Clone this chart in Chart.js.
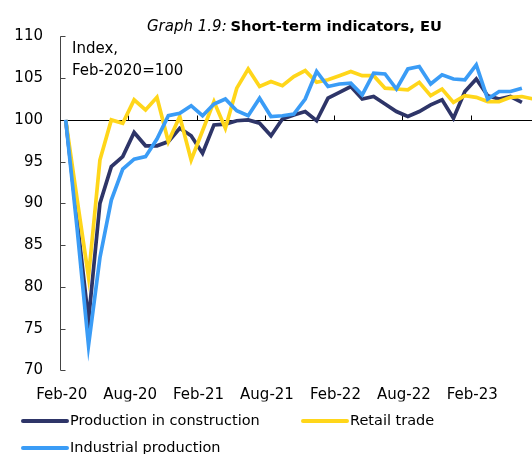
<!DOCTYPE html>
<html>
<head>
<meta charset="utf-8">
<script src="https://cdn.jsdelivr.net/npm/chart.js@4"></script>
<style>
  html, body { margin: 0; padding: 0; overflow: hidden; background: #fff; }
  #wrap { width: 545px; height: 454px; }
</style>
</head>
<body>
<div id="wrap"><canvas id="chart" width="545" height="454"></canvas></div>
<script>
// ---- Data (index, Feb-2020 = 100) ----
const months = [
  'Feb-20','Mar-20','Apr-20','May-20','Jun-20','Jul-20','Aug-20','Sep-20','Oct-20','Nov-20','Dec-20',
  'Jan-21','Feb-21','Mar-21','Apr-21','May-21','Jun-21','Jul-21','Aug-21','Sep-21','Oct-21','Nov-21','Dec-21',
  'Jan-22','Feb-22','Mar-22','Apr-22','May-22','Jun-22','Jul-22','Aug-22','Sep-22','Oct-22','Nov-22','Dec-22',
  'Jan-23','Feb-23','Mar-23','Apr-23','May-23','Jun-23','Jul-23'
];

const construction = [
  100, 88, 76.0, 90.0, 94.4, 95.6, 98.5, 96.9, 96.9, 97.4, 99.0,
  98.1, 96.0, 99.4, 99.5, 99.9, 100.0, 99.6, 98.1, 100.1, 100.6, 101.0, 99.9,
  102.6, 103.3, 104.0, 102.5, 102.8, 101.9, 101.0, 100.4, 101.0, 101.8, 102.4, 100.2,
  103.4, 104.9, 102.9, 102.5, 102.8, 102.1
];

const retail = [
  100, 90.5, 81.2, 95.2, 100.0, 99.6, 102.4, 101.2, 102.7, 97.4, 100.4,
  95.2, 98.7, 102.2, 99.0, 103.8, 106.1, 104.0, 104.6, 104.1, 105.2, 105.9, 104.5,
  104.8, 105.3, 105.8, 105.3, 105.3, 103.8, 103.7, 103.6, 104.5, 102.9, 103.7, 102.1,
  102.9, 102.7, 102.2, 102.2, 102.7, 102.8, 102.5
];

const industry = [
  100, 87, 73.0, 83.5, 90.4, 94.1, 95.3, 95.6, 97.7, 100.5, 100.8,
  101.7, 100.5, 101.9, 102.5, 101.1, 100.5, 102.6, 100.4, 100.5, 100.7, 102.5, 105.8,
  104.0, 104.3, 104.4, 103.0, 105.6, 105.5, 103.7, 106.1, 106.4, 104.3, 105.4, 104.9,
  104.8, 106.6, 102.5, 103.4, 103.4, 103.8
];

const FONT = 'DejaVu Sans';

// ---- Decorations: title, note, axes, legend ----
const decor = {
  id: 'decor',
  beforeDatasetsDraw(chart) {
    const { ctx, chartArea: a, scales: { x, y } } = chart;
    ctx.save();
    // y axis with inward ticks
    ctx.strokeStyle = '#444';
    ctx.lineWidth = 1;
    const lx = Math.round(a.left) + 0.5;
    ctx.beginPath();
    ctx.moveTo(lx, y.getPixelForValue(110));
    ctx.lineTo(lx, y.getPixelForValue(70));
    for (let v = 70; v <= 110; v += 5) {
      const py = Math.round(y.getPixelForValue(v)) + 0.5;
      ctx.moveTo(lx, py);
      ctx.lineTo(lx + 5, py);
    }
    ctx.stroke();
    // x axis drawn at 100, ticks every 6 months between categories
    const y100 = Math.round(y.getPixelForValue(100)) + 0.5;
    ctx.strokeStyle = '#000';
    ctx.beginPath();
    ctx.moveTo(a.left, y100);
    ctx.lineTo(a.right, y100);
    const half = (x.getPixelForValue(1) - x.getPixelForValue(0)) / 2;
    for (let i = 6; i < months.length; i += 6) {
      const px = Math.round(x.getPixelForValue(i) - half) + 0.5;
      ctx.moveTo(px, y100);
      ctx.lineTo(px, y100 - 5);
    }
    ctx.stroke();
    ctx.restore();
  },
  afterDraw(chart) {
    const { ctx } = chart;
    ctx.save();
    ctx.fillStyle = '#000';
    ctx.textBaseline = 'alphabetic';
    // title
    ctx.font = 'italic 15px "' + FONT + '"';
    const t1 = 'Graph 1.9: ';
    ctx.fillText(t1, 147, 31);
    const w1 = ctx.measureText(t1).width;
    ctx.font = 'bold 14.7px "' + FONT + '"';
    ctx.fillText('Short-term indicators, EU', 146 + w1, 31);
    // unit note
    ctx.font = '15px "' + FONT + '"';
    ctx.fillText('Index,', 72, 53);
    ctx.fillText('Feb-2020=100', 72, 75);
    // legend
    const spots = [[22, 421], [302, 421], [22, 448]];
    ctx.font = '14.5px "' + FONT + '"';
    ctx.textBaseline = 'middle';
    chart.data.datasets.forEach((ds, i) => {
      const [lx, ly] = spots[i];
      ctx.strokeStyle = ds.borderColor;
      ctx.lineWidth = 4;
      ctx.lineCap = 'round';
      ctx.beginPath();
      ctx.moveTo(lx + 1, ly);
      ctx.lineTo(lx + 45, ly);
      ctx.stroke();
      ctx.fillStyle = '#000';
      ctx.fillText(ds.label, lx + 48, ly);
    });
    ctx.restore();
  }
};

const chart = new Chart(document.getElementById('chart'), {
  type: 'line',
  data: {
    labels: months,
    datasets: [
      { label: 'Production in construction', data: construction, borderColor: '#2e3568', order: 3 },
      { label: 'Retail trade', data: retail, borderColor: '#ffd61a', order: 2 },
      { label: 'Industrial production', data: industry, borderColor: '#3a9cf6', order: 1 }
    ]
  },
  options: {
    responsive: false,
    animation: false,
    layout: { padding: { top: 36.4, bottom: 52.6, left: 0, right: 6 } },
    elements: { point: { radius: 0 }, line: { borderWidth: 3.7, tension: 0 } },
    plugins: { legend: { display: false }, tooltip: { enabled: false }, title: { display: false } },
    scales: {
      x: {
        offset: true,
        grid: { display: false },
        border: { display: false },
        afterFit: s => { s.height = 31; },
        ticks: {
          autoSkip: false, maxRotation: 0, padding: 8, labelOffset: -4,
          color: '#000', font: { family: FONT, size: 15 },
          callback: (v, i) => (i % 6 === 0 ? months[i] : '')
        }
      },
      y: {
        min: 70, max: 110,
        grid: { display: false, drawTicks: false },
        border: { display: false },
        afterFit: s => { s.width = 60; },
        ticks: { stepSize: 5, padding: 17, color: '#000', font: { family: FONT, size: 15 } }
      }
    }
  },
  plugins: [decor]
});
</script>
</body>
</html>
